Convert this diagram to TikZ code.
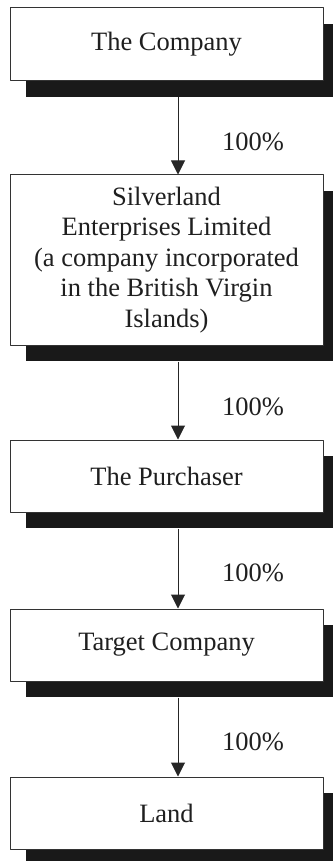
\documentclass[tikz,border=0pt]{standalone}
\usepackage{fontspec}
\setmainfont{Liberation Serif}
\usetikzlibrary{arrows.meta,shadows}
\begin{document}
\begin{tikzpicture}[x=1pt,y=1pt,line join=round,
	entity/.style={draw=black!80,line width=1pt,fill=white,minimum width=313pt,
		inner sep=0pt,align=center,text=black!88,
		font=\fontsize{26.5}{30.5}\selectfont,
		drop shadow={shadow xshift=16pt,shadow yshift=-16pt,fill=black!90,opacity=1}},
	share/.style={text=black!88,font=\fontsize{26.5}{30.5}\selectfont}]
	\useasboundingbox (0,0) rectangle (332,-861);
	\node[entity,minimum height=73pt] (co) at (166.5,-44.5) {The Company};
	\node[entity,minimum height=170pt] (sil) at (166.5,-260) {Silverland\\Enterprises Limited\\(a company incorporated\\ in the British Virgin\\Islands)};
	\node[entity,minimum height=72pt] (pur) at (166.5,-476) {The Purchaser};
	\node[entity,minimum height=72pt] (tar) at (166.5,-645) {Target Company};
	\node[entity,minimum height=72pt] (land) at (166.5,-813) {Land};
	\foreach \a/\b/\y in {co/sil/-142,sil/pur/-407,pur/tar/-573,tar/land/-742}{
		\draw[line width=1pt,black!85,-{Triangle[width=14pt,length=14pt]}]
			([shift={(11.5pt,-16pt)}]\a.south) -- ([xshift=11.5pt]\b.north);
		\node[share] (p\b) at (253,\y) {100\%};
	}
\end{tikzpicture}
\end{document}
